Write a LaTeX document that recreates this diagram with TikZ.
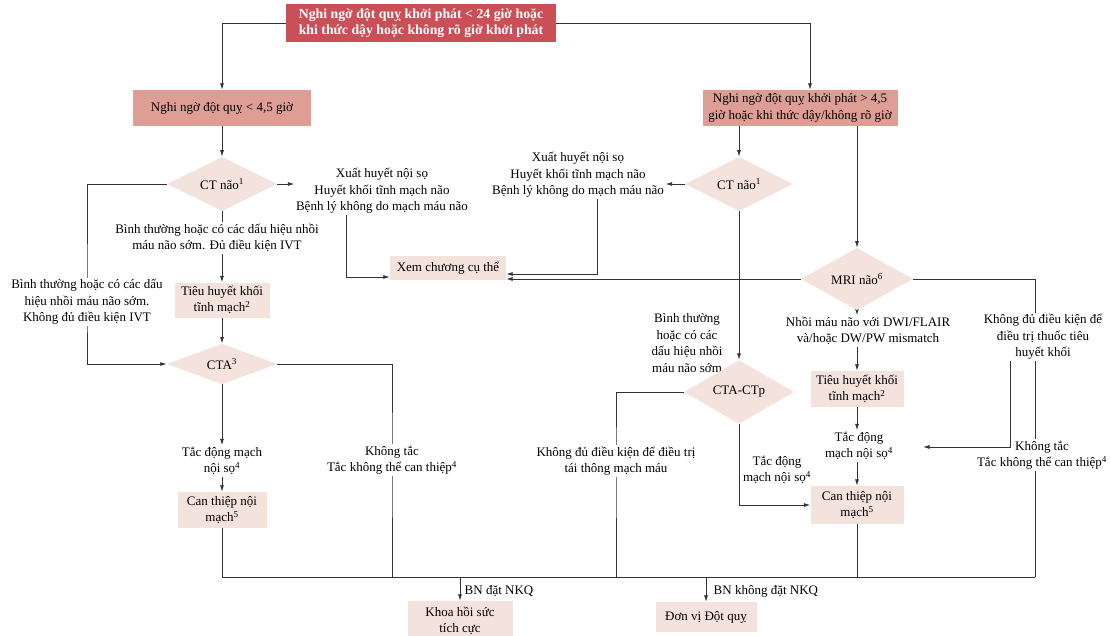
\documentclass[tikz,border=0pt]{standalone}
\usepackage{fontspec}
\setmainfont{Liberation Serif}
\usetikzlibrary{arrows.meta,shapes.geometric,backgrounds}
\definecolor{hdred}{HTML}{CB4F56}
\definecolor{midpink}{HTML}{DE9E96}
\definecolor{palepink}{HTML}{F4E2DD}
\definecolor{wire}{HTML}{333333}
\tikzset{
  topbox/.style={rectangle, fill=hdred, text=white, font=\fontsize{13.8}{16.5}\selectfont\bfseries, align=center, inner sep=2pt},
  headbox/.style={rectangle, fill=midpink, align=center, inner sep=2pt},
  box/.style={rectangle, fill=palepink, align=center, inner sep=2pt},
  decide/.style={diamond, fill=palepink, inner sep=0pt, minimum width=110pt, minimum height=38pt},
  note/.style={align=center, inner sep=1.5pt},
  cover/.style={note, fill=white},
  arr/.style={-{Latex[length=6.5pt,width=4pt]}},
  wires/.style={draw=wire, line width=0.85pt}
}
\begin{document}
\begin{tikzpicture}[x=1pt, y=-1pt, font=\fontsize{13}{16.5}\selectfont]
\useasboundingbox (0,0) rectangle (1110,636);
\clip (0,0) rectangle (1110,636);

% ---- nodes ----
\node[topbox, minimum width=270pt, minimum height=38pt] (top) at (421,23)
  {Nghi ngờ đột quỵ khởi phát < 24 giờ hoặc\\khi thức dậy hoặc không rõ giờ khởi phát};
\node[headbox, minimum width=178pt, minimum height=36pt] (early) at (222,108)
  {Nghi ngờ đột quỵ < 4,5 giờ};
\node[headbox, minimum width=195pt, minimum height=36pt] (late) at (800,108)
  {Nghi ngờ đột quỵ khởi phát > 4,5\\giờ hoặc khi thức dậy/không rõ giờ};

% left branch
\node[decide] (ctA) at (222,184) {CT não\textsuperscript{1}};
\node[note] (bleedA) at (382,191)
  {Xuất huyết nội sọ\\Huyết khối tĩnh mạch não\\Bệnh lý không do mạch máu não};
\node[note] (okA) at (217,238)
  {Bình thường hoặc có các dấu hiệu nhồi\\máu não sớm. Đủ điều kiện IVT};
\node[box, minimum width=95pt, minimum height=35pt] (ivtA) at (222,300)
  {Tiêu huyết khối\\tĩnh mạch\textsuperscript{2}};
\node[cover] (noivt) at (87,302)
  {Bình thường hoặc có các dấu\\hiệu nhồi máu não sớm.\\Không đủ điều kiện IVT};
\node[decide, minimum height=40pt] (cta) at (222,364) {CTA\textsuperscript{3}};
\node[note] (occA) at (222,461) {Tắc động mạch\\nội sọ\textsuperscript{4}};
\node[box, minimum width=89pt, minimum height=36pt] (evtA) at (222,510)
  {Can thiệp nội\\mạch\textsuperscript{5}};
\node[cover] (nooccA) at (392,460) {Không tắc\\Tắc không thể can thiệp\textsuperscript{4}};

\node[box, minimum width=116pt, minimum height=24pt] (see) at (448,268) {Xem chương cụ thể};

% right branch
\node[decide, minimum width=108pt] (ctB) at (739,184) {CT não\textsuperscript{1}};
\node[note] (bleedB) at (578,175)
  {Xuất huyết nội sọ\\Huyết khối tĩnh mạch não\\Bệnh lý không do mạch máu não};
\node[decide, minimum width=112pt, minimum height=39pt] (mri) at (857,279) {MRI não\textsuperscript{6}};
\node[note] (dwi) at (868,331) {Nhồi máu não với DWI/FLAIR\\và/hoặc DW/PW mismatch};
\node[box, minimum width=93pt, minimum height=36pt] (ivtB) at (857,389)
  {Tiêu huyết khối\\tĩnh mạch\textsuperscript{2}};
\node[note] (occB) at (859,446) {Tắc động\\mạch nội sọ\textsuperscript{4}};
\node[box, minimum width=93pt, minimum height=38pt] (evtB) at (857,505)
  {Can thiệp nội\\mạch\textsuperscript{5}};
\node[cover] (nolysis) at (1043,337)
  {Không đủ điều kiện để\\điều trị thuốc tiêu\\huyết khối};
\node[note] (nooccB) at (1042,455) {Không tắc\\Tắc không thể can thiệp\textsuperscript{4}};
\node[note] (okB) at (687,343) {Bình thường\\hoặc có các\\dấu hiệu nhồi\\máu não sớm};
\node[decide] (ctp) at (739,392) {CTA-CTp};
\node[cover] (noreca) at (616,461)
  {Không đủ điều kiện để điều trị\\tái thông mạch máu};
\node[note] (occC) at (777,470) {Tắc động\\mạch nội sọ\textsuperscript{4}};

% destinations
\node[box, minimum width=105pt, minimum height=40pt] (icu) at (460,621) {Khoa hồi sức\\tích cực};
\node[box, minimum width=101pt, minimum height=30pt] (unit) at (706,617) {Đơn vị Đột quỵ};
\node[note, anchor=west] (tubeY) at (463,591) {BN đặt NKQ};
\node[note, anchor=west] (tubeN) at (712,591) {BN không đặt NKQ};

% ---- connectors ----
\begin{scope}[on background layer]
\fill[white] (0,0) rectangle (1110,636);
\begin{scope}[wires]
\coordinate (busR) at (1035,577);
\coordinate (seeL) at (346,277);
\coordinate (seeR) at (597,274);
\coordinate (back) at (1010,447);
\coordinate (backTip) at (923,447);

\draw[arr] (top.west) -| (early.north);
\draw[arr] (top.east) -| ([xshift=10pt]late.north);

\draw[arr] (early.south) -- (ctA.north);
\draw[arr] (ctA.east) -- (ctA.east -| bleedA.west);
\draw[arr] (bleedA.south -| seeL) -- (seeL) -- (seeL -| see.west);
\draw (ctA.south) -- (ctA.south |- okA.north);
\draw[arr] (ctA.south |- okA.south) -- (ivtA.north);
\draw[arr] (ivtA.south) -- (cta.north);
\draw[arr] (ctA.west) -| (noivt.center) |- (cta.west);
\draw[arr] (cta.south) -- (occA.north);
\draw[arr] (occA.south) -- (evtA.north);
\draw (evtA.south) |- (busR);
\draw (cta.east) -| (nooccA.center) -- (nooccA.center |- busR);

\draw[arr] (late.south -| ctB.north) -- (ctB.north);
\draw[arr] (late.south -| mri.north) -- (mri.north);
\draw[arr] (ctB.west) -- (ctB.west -| bleedB.east);
\draw[arr] (bleedB.south -| seeR) -- (seeR) -- (seeR -| see.east);
\draw[arr] (mri.west) -- (mri.west -| see.east);

\draw[arr] (ctB.south) -- (ctp.north);
\draw (ctp.west) -| (noreca.center) -- (noreca.center |- busR);
\draw[arr] (ctp.south) |- (evtB.west);

\draw[arr] (mri.south) -- (mri.south |- dwi.north);
\draw[arr] (mri.south |- dwi.south) -- (ivtB.north);
\draw[arr] (ivtB.south) -- (ivtB.south |- occB.north);
\draw[arr] (ivtB.south |- occB.south) -- (evtB.north);
\draw (evtB.south) -- (evtB.south |- busR);

\draw (mri.east) -| (nooccB.north -| busR);
\draw (nooccB.south -| busR) -- (busR);
\draw[arr] (nolysis.south -| back) -- (back) -- (backTip);

\draw[arr] (icu.north |- busR) -- (icu.north);
\draw[arr] (unit.north |- busR) -- (unit.north);
\end{scope}
\end{scope}
\end{tikzpicture}
\end{document}
